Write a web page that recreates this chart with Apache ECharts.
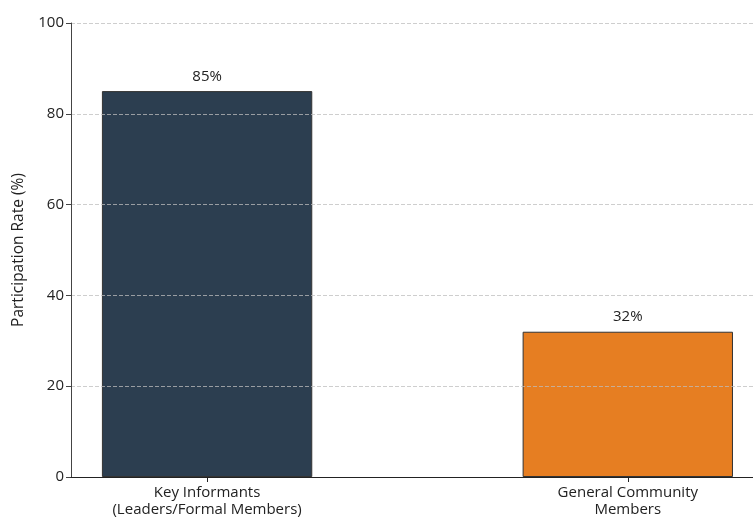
<!DOCTYPE html>
<html>
<head>
<meta charset="utf-8">
<script src="https://cdn.jsdelivr.net/npm/echarts@6/dist/echarts.min.js"></script>
<style>html,body{margin:0;padding:0;background:#fff}#c{width:753px;height:518px}</style>
</head>
<body>
<div id="c"></div>
<script>
const categories = ["Key Informants\n(Leaders/Formal Members)", "General Community\nMembers"];
const values = [85, 32];
const barColors = ["#2c3e50", "#e67e22"];
const yTicks = [0, 20, 40, 60, 80, 100];

const FONT = "Open Sans";
const xMin = -0.3235, xMax = 1.2976;
const gridLeft = 71, gridRight = 0, gridTop = 23, gridBottom = 41;
const plotW = 753 - gridLeft - gridRight;
const barW = plotW / (xMax - xMin) * 0.5;

const chart = echarts.init(document.getElementById('c'), null, {renderer: 'canvas'});
chart.setOption({
  animation: false,
  textStyle: {fontFamily: FONT},
  grid: {left: gridLeft, right: gridRight, top: gridTop, bottom: gridBottom, containLabel: false},
  xAxis: {
    type: 'value', min: xMin, max: xMax, z: 12,
    axisLine: {show: true, onZero: false, lineStyle: {color: '#222', width: 1}},
    axisTick: {show: true, customValues: [0, 1], length: 5, lineStyle: {color: '#222'}},
    axisLabel: {customValues: [0, 1], formatter: v => categories[Math.round(v)], color: '#222', fontSize: 15, fontFamily: FONT, lineHeight: 17, margin: 7},
    splitLine: {show: false}
  },
  yAxis: {
    type: 'value', min: 0, max: 100, interval: 20, z: 10,
    name: 'Participation Rate (%)', nameLocation: 'middle', nameGap: 44, nameRotate: 90,
    nameTextStyle: {color: '#222', fontSize: 15.5, fontFamily: FONT},
    axisLine: {show: true, onZero: false, lineStyle: {color: '#444', width: 1}},
    axisTick: {show: true, length: 5, lineStyle: {color: '#444'}},
    axisLabel: {color: '#222', fontSize: 15, fontFamily: FONT, margin: 7, formatter: v => yTicks.includes(v) ? String(v) : ''},
    splitLine: {show: true, lineStyle: {color: 'rgba(190,190,190,0.75)', type: [4, 2], width: 1}}
  },
  series: [{
    type: 'bar',
    barWidth: barW,
    data: values.map((v, i) => ({value: [i, v], itemStyle: {color: barColors[i], borderColor: '#333', borderWidth: 1}})),
    label: {show: true, position: 'top', distance: 7, formatter: p => p.value[1] + '%', color: '#222', fontSize: 15, fontFamily: FONT}
  }]
});
</script>
</body>
</html>
